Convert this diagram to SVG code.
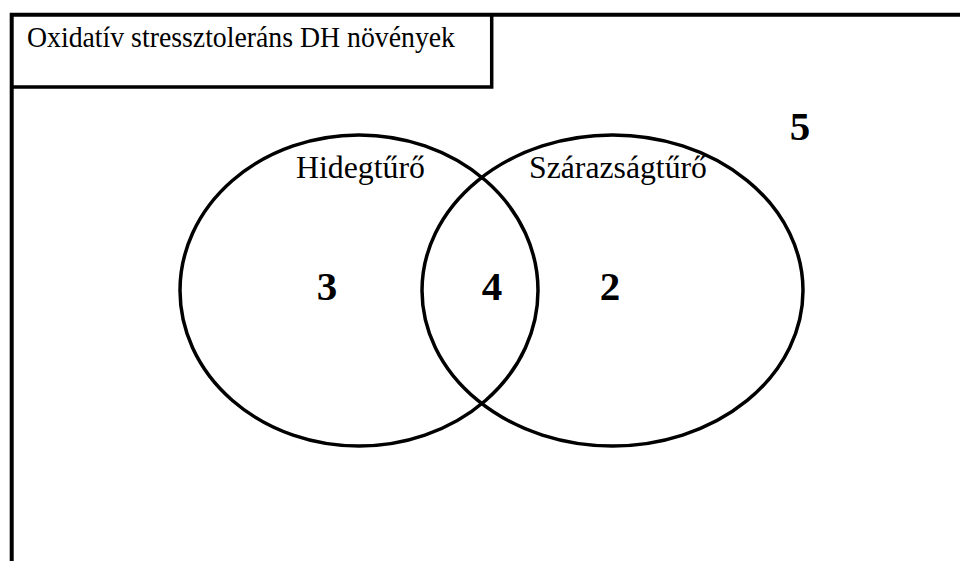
<svg xmlns="http://www.w3.org/2000/svg" width="960" height="561" viewBox="0 0 960 561">
<style>
.frame{fill:none;stroke:#000;stroke-width:4}
.ell{fill:none;stroke:#000;stroke-width:3.5}
.lbl{font-family:"Liberation Serif","Times New Roman",serif;fill:#000}
.num{font-family:"Liberation Serif","Times New Roman",serif;font-weight:bold;font-size:41px;fill:#000;text-anchor:middle}
</style>
<rect width="960" height="561" fill="#fff"/>
<g id="frame">
<path class="frame" d="M11.7,561 V14.7 H960"/>
</g>
<g id="title-box">
<path class="frame" d="M11.7,87 H491.7 V14.7" style="stroke-width:3.5"/>
<text class="lbl" x="27" y="47" font-size="29.5" textLength="428" lengthAdjust="spacingAndGlyphs">Oxidatív stressztoleráns DH növények</text>
</g>
<g id="hidegturo">
<ellipse class="ell" cx="359" cy="290.5" rx="179" ry="155.5"/>
<text class="lbl" x="296" y="178" font-size="31" textLength="129" lengthAdjust="spacingAndGlyphs">Hidegtűrő</text>
<text class="num" x="327" y="300">3</text>
</g>
<g id="szarazsagturo">
<ellipse class="ell" cx="612.5" cy="290.5" rx="190.5" ry="155.5"/>
<text class="lbl" x="529" y="178" font-size="31" textLength="178" lengthAdjust="spacingAndGlyphs">Szárazságtűrő</text>
<text class="num" x="610" y="300">2</text>
</g>
<g id="intersection">
<text class="num" x="492" y="300">4</text>
</g>
<g id="outside">
<text class="num" x="800" y="140">5</text>
</g>
<g id="connectors"></g>
</svg>
